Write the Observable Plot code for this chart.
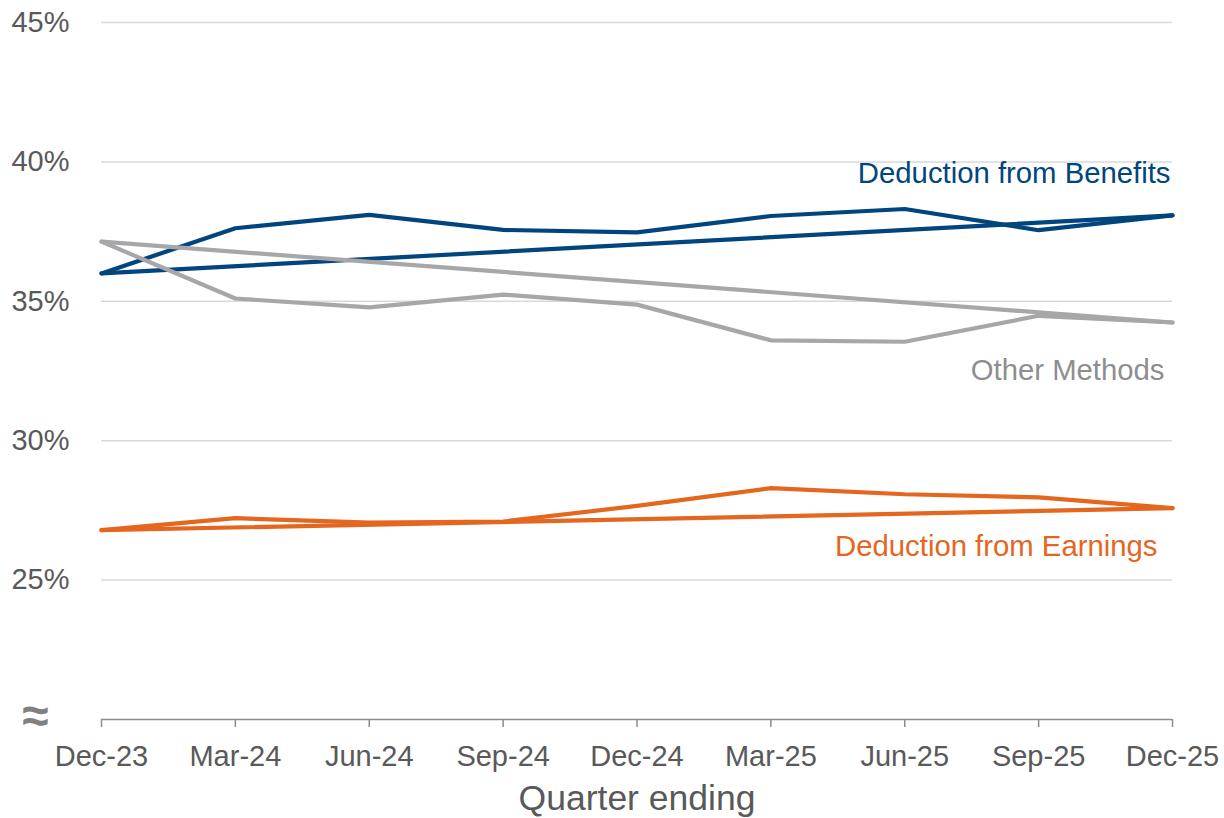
<!DOCTYPE html>
<html>
<head>
<meta charset="utf-8">
<script src="https://cdn.jsdelivr.net/npm/d3@7"></script>
<script src="https://cdn.jsdelivr.net/npm/@observablehq/plot@0.6"></script>
<style>
  html, body { margin: 0; padding: 0; background: #fff; }
  #chart { width: 1224px; height: 818px; }
</style>
</head>
<body>
<div id="chart"></div>
<script>
const quarters = ["Dec-23","Mar-24","Jun-24","Sep-24","Dec-24","Mar-25","Jun-25","Sep-25","Dec-25"];
const benefits = [36.0, 37.62, 38.1, 37.56, 37.47, 38.06, 38.31, 37.55, 38.08];
const otherMethods = [37.14, 35.1, 34.78, 35.24, 34.88, 33.6, 33.55, 34.48, 34.24];
const earnings = [26.79, 27.22, 27.06, 27.1, 27.66, 28.3, 28.08, 27.97, 27.58];
const yTicks = [25, 30, 35, 40, 45];
const seriesNames = ["Deduction from Benefits", "Other Methods", "Deduction from Earnings"];

const rows = (vals) => quarters.map((q, i) => ({q, v: vals[i]}));
const trend = (vals) => [{q: quarters[0], v: vals[0]}, {q: quarters[quarters.length - 1], v: vals[vals.length - 1]}];
const lastPt = (vals, name) => [{q: quarters[quarters.length - 1], v: vals[vals.length - 1], name}];

const cBlue = "#00457e", cGray = "#a7a7aa", cOrange = "#e5661f";
const font = "'Liberation Sans', Arial, sans-serif";

const lineOpts = (stroke) => ({x: "q", y: "v", stroke, strokeWidth: 4.2, strokeLinecap: "round", strokeLinejoin: "round"});

const chart = Plot.plot({
  width: 1224,
  height: 818,
  marginLeft: 101,
  marginRight: 52,
  marginTop: 22,
  marginBottom: 99,
  style: {fontFamily: font, background: "#fff", overflow: "visible"},
  x: {type: "point", domain: quarters, padding: 0, round: false},
  y: {domain: [20, 45]},
  marks: [
    Plot.gridY(yTicks, {stroke: "#d9d9d9", strokeOpacity: 1, strokeWidth: 1.5}),
    Plot.axisY(yTicks, {tickSize: 0, tickPadding: 32, tickFormat: d => d + "%", fontSize: 29, fill: "#595959", label: null}),
    Plot.ruleY([20], {stroke: "#8c8c8c", strokeWidth: 1.5}),
    Plot.axisX({tickSize: 8, tickPadding: 18, stroke: "#8c8c8c", strokeWidth: 1.5, fill: "#595959", fontSize: 29, label: null}),
    Plot.line(rows(benefits), lineOpts(cBlue)),
    Plot.line(trend(benefits), lineOpts(cBlue)),
    Plot.line(rows(otherMethods), lineOpts(cGray)),
    Plot.line(trend(otherMethods), lineOpts(cGray)),
    Plot.line(rows(earnings), lineOpts(cOrange)),
    Plot.line(trend(earnings), lineOpts(cOrange)),
    Plot.text(lastPt(benefits, seriesNames[0]), {x: "q", y: "v", text: "name", textAnchor: "end", lineAnchor: "middle", dx: -2, dy: -41.5, fill: cBlue, fontSize: 29.3}),
    Plot.text(lastPt(otherMethods, seriesNames[1]), {x: "q", y: "v", text: "name", textAnchor: "end", lineAnchor: "middle", dx: -8, dy: 48.5, fill: "#8e8e90", fontSize: 29.3}),
    Plot.text(lastPt(earnings, seriesNames[2]), {x: "q", y: "v", text: "name", textAnchor: "end", lineAnchor: "middle", dx: -15, dy: 38, fill: cOrange, fontSize: 29.3}),
    Plot.text(["≈"], {frameAnchor: "bottom-left", text: d => d, dx: -66, dy: -3, lineAnchor: "middle", textAnchor: "middle", fill: "#808080", fontSize: 48, fontWeight: "bold"}),
    Plot.text(["Quarter ending"], {frameAnchor: "bottom", text: d => d, dy: 79, lineAnchor: "middle", fill: "#595959", fontSize: 35.5})
  ]
});
document.getElementById("chart").appendChild(chart);
</script>
</body>
</html>
